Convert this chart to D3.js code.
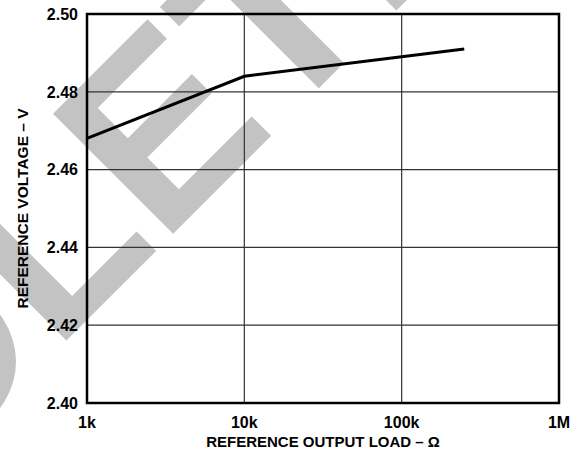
<!DOCTYPE html>
<html><head><meta charset="utf-8">
<script src="https://cdn.jsdelivr.net/npm/d3@7"></script>
<style>body{margin:0;background:#fff}svg{display:block}</style>
</head><body>
<svg id="c" width="576" height="455"></svg>
<script>
const loads = [1000, 10000, 100000, 250000];
const voltage = [2.468, 2.484, 2.489, 2.491];
const xTicks = [1000, 10000, 100000, 1000000];
const xTickLabels = ["1k", "10k", "100k", "1M"];
const yTicks = [2.40, 2.42, 2.44, 2.46, 2.48, 2.50];
const xTitle = "REFERENCE OUTPUT LOAD – Ω";
const yTitle = "REFERENCE VOLTAGE – V";
const watermark = "OLETE";

const svg = d3.select("#c");
const F = "'Liberation Sans', Arial, Helvetica, sans-serif";
const L = 87, R = 559, T = 14, B = 403;
const x = d3.scaleLog().domain([1e3, 1e6]).range([L, R]);
const y = d3.scaleLinear().domain([2.40, 2.50]).range([B, T]);

// watermark
svg.append("text")
  .attr("transform", "translate(-81,488) rotate(-45)")
  .attr("font-family", F).attr("font-weight", "bold").attr("font-size", 247)
  .attr("fill", "#c3c3c3")
  .text(watermark);

// grid
const g = svg.append("g");
g.selectAll(".vg").data(xTicks.slice(1, -1)).enter().append("line")
  .attr("x1", d => x(d)).attr("x2", d => x(d)).attr("y1", T).attr("y2", B)
  .attr("stroke", "#333").attr("stroke-width", 1.2);
g.selectAll(".hg").data(yTicks.slice(1, -1)).enter().append("line")
  .attr("y1", d => y(d)).attr("y2", d => y(d)).attr("x1", L).attr("x2", R)
  .attr("stroke", "#333").attr("stroke-width", 1.2);

// data line
svg.append("path")
  .datum(loads.map((d, i) => [d, voltage[i]]))
  .attr("fill", "none").attr("stroke", "#000").attr("stroke-width", 3)
  .attr("d", d3.line().x(d => x(d[0])).y(d => y(d[1])));

// frame
svg.append("rect").attr("x", L).attr("y", T).attr("width", R - L).attr("height", B - T)
  .attr("fill", "none").attr("stroke", "#000").attr("stroke-width", 2.5);

// y tick labels
svg.selectAll(".yt").data(yTicks).enter().append("text")
  .attr("x", 78).attr("y", d => y(d)).attr("dy", "0.36em")
  .attr("text-anchor", "end")
  .attr("font-family", F).attr("font-weight", "bold").attr("font-size", 16)
  .text(d => d.toFixed(2));

// x tick labels
svg.selectAll(".xt").data(xTicks).enter().append("text")
  .attr("x", d => x(d)).attr("y", 428)
  .attr("text-anchor", "middle")
  .attr("font-family", F).attr("font-weight", "bold").attr("font-size", 16)
  .text((d, i) => xTickLabels[i]);

// titles
svg.append("text").attr("x", (L + R) / 2).attr("y", 447)
  .attr("text-anchor", "middle")
  .attr("font-family", F).attr("font-weight", "bold").attr("font-size", 15)
  .text(xTitle);
svg.append("text")
  .attr("transform", `translate(28,${(T + B) / 2}) rotate(-90)`)
  .attr("text-anchor", "middle")
  .attr("font-family", F).attr("font-weight", "bold").attr("font-size", 15.5)
  .text(yTitle);
</script>
</body></html>
